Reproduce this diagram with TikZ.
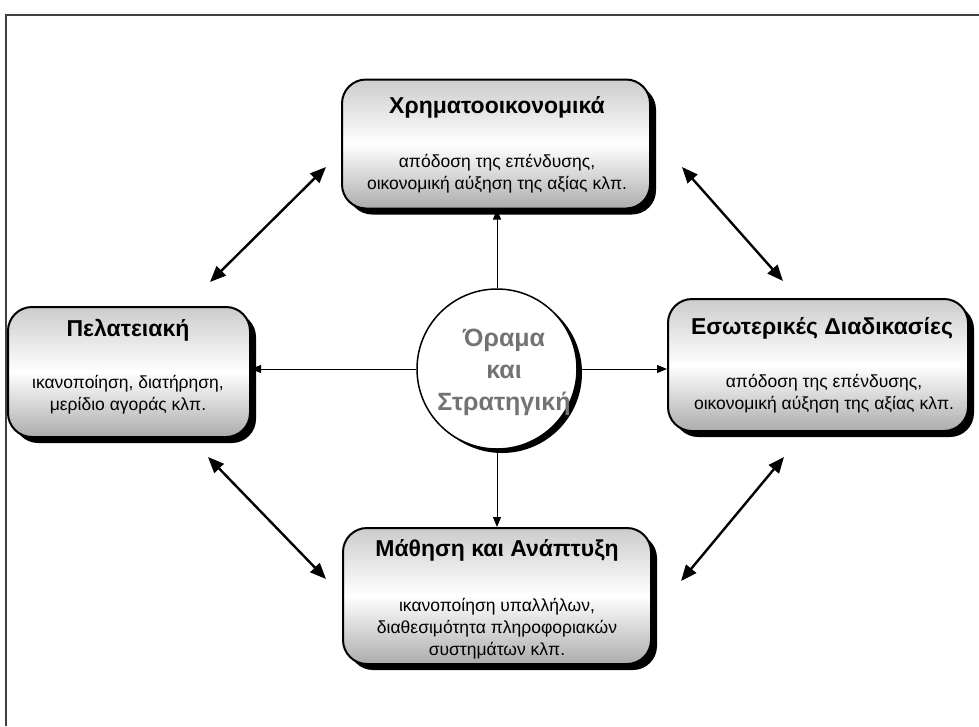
\documentclass[tikz,border=0pt]{standalone}
\usepackage{fontspec}
\setmainfont{Liberation Sans}
\usetikzlibrary{arrows.meta,shadows,calc}

\tikzset{
  persp/.style={draw=black, line width=2pt, rounded corners=24pt,
    top color=gray!40, bottom color=gray!65, middle color=white,
    drop shadow={shadow xshift=6pt, shadow yshift=-6pt, fill=black, opacity=1},
    inner sep=0pt},
  ptitle/.style={font=\bfseries\fontsize{23}{27}\selectfont, inner sep=0pt},
  pbody/.style={font=\fontsize{17.5}{22}\selectfont, align=center, inner sep=0pt},
  hub/.style={circle, draw=black, line width=1.5pt, fill=white,
    minimum size=160pt, inner sep=0pt,
    drop shadow={shadow xshift=5pt, shadow yshift=-4pt, fill=black, opacity=1}},
  hubtext/.style={font=\bfseries\fontsize{25}{32}\selectfont, align=center,
    text=black!55, inner sep=0pt},
  spoke/.style={draw=black, line width=1pt, -{Triangle[length=10pt,width=8pt]}},
  link/.style={draw=black, line width=2.4pt,
    {Triangle[length=16pt,width=13pt]}-{Triangle[length=16pt,width=13pt]}},
  frame/.style={draw=black!75, line width=2pt}
}

\begin{document}
\begin{tikzpicture}[x=1pt, y=-1pt]
  \useasboundingbox (0,0) rectangle (979,726);

  % outer frame (left and top edges)
  \coordinate (fr1) at (6,726);
  \coordinate (fr2) at (6,15);
  \coordinate (fr3) at (979,15);
  \draw[frame] (fr1) -- (fr2) -- (fr3);

  % four perspectives
  \node[persp, minimum width=308pt, minimum height=129pt] (fin) at (496,144) {};
  \node[persp, minimum width=242pt, minimum height=130pt] (cust) at (129,372) {};
  \node[persp, minimum width=300pt, minimum height=132pt] (proc) at (818,365) {};
  \node[persp, minimum width=308pt, minimum height=136pt] (learn) at (497,596) {};

  % texts inside the boxes
  \node[ptitle] (finT) at (497,107) {Χρηματοοικονομικά};
  \node[pbody] (finB) at (497,174) {απόδοση της επένδυσης,\\οικονομική αύξηση της αξίας κλπ.};

  \node[ptitle] (custT) at (128,330) {Πελατειακή};
  \node[pbody] (custB) at (128,395) {ικανοποίηση, διατήρηση,\\μερίδιο αγοράς κλπ.};

  \node[ptitle] (procT) at (822,328) {Εσωτερικές Διαδικασίες};
  \node[pbody] (procB) at (824,394) {απόδοση της επένδυσης,\\οικονομική αύξηση της αξίας κλπ.};

  \node[ptitle] (learnT) at (497,550) {Μάθηση και Ανάπτυξη};
  \node[pbody] (learnB) at (497,629) {ικανοποίηση υπαλλήλων,\\διαθεσιμότητα πληροφοριακών\\συστημάτων κλπ.};

  % central hub
  \node[hub] (hub) at (497,369) {};
  \node[hubtext] (hubT) at (504,372) {Όραμα\\και\\Στρατηγική};

  % spokes from the hub
  \draw[spoke] (hub.north) -- (hub.north |- fin.south);
  \draw[spoke] (hub.south) -- (hub.south |- learn.north);
  \draw[spoke] (hub.west) -- (hub.west -| cust.east);
  \draw[spoke] (hub.east) -- (hub.east -| proc.west);

  % links between neighbouring perspectives
  \coordinate (a1) at (210,282);
  \coordinate (a2) at (326,167);
  \coordinate (b1) at (682,167);
  \coordinate (b2) at (783,281);
  \coordinate (c1) at (208,457);
  \coordinate (c2) at (326,579);
  \coordinate (d1) at (784,457);
  \coordinate (d2) at (681,581);
  \draw[link] (a1) -- (a2);
  \draw[link] (b1) -- (b2);
  \draw[link] (c1) -- (c2);
  \draw[link] (d1) -- (d2);
\end{tikzpicture}
\end{document}
